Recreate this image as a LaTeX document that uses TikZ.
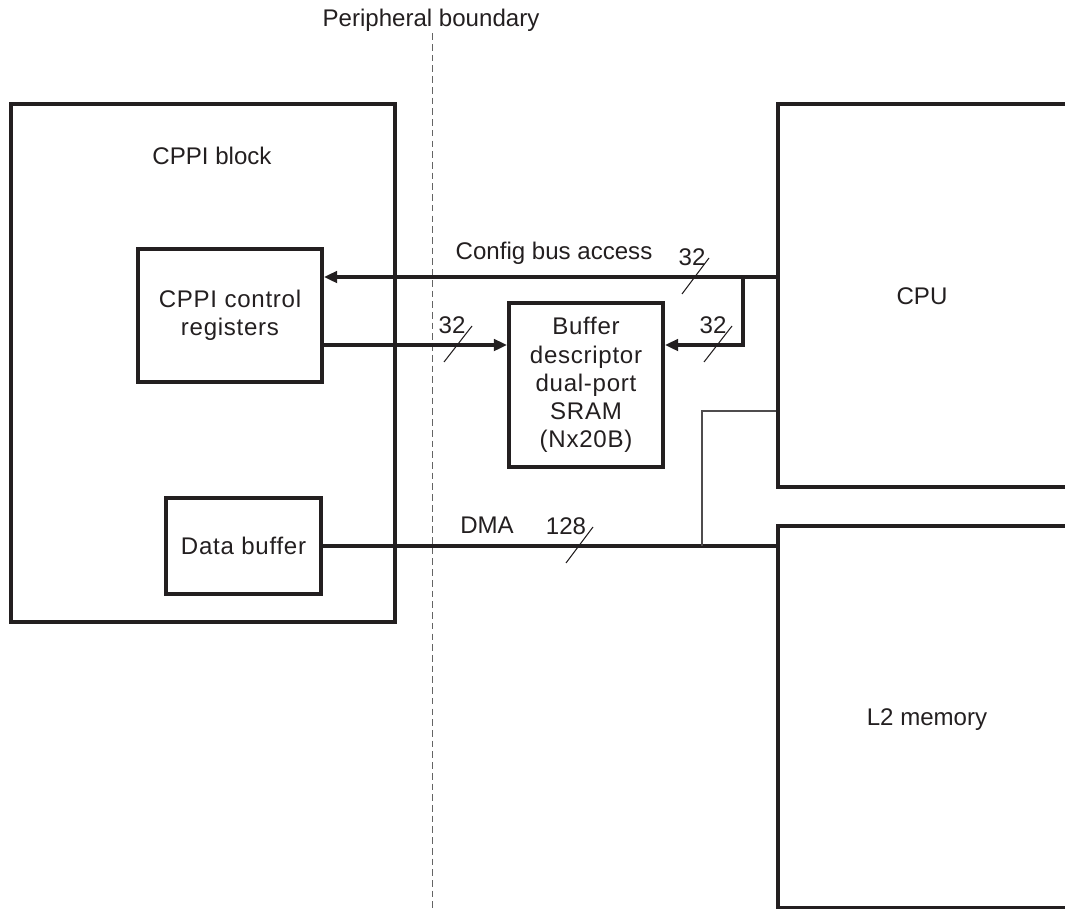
\documentclass[tikz,border=0pt]{standalone}
\usepackage{fontspec}
\setmainfont{Liberation Sans}
\definecolor{hwink}{RGB}{35,31,32}
\definecolor{hwgrey}{RGB}{100,100,100}
\usetikzlibrary{arrows.meta,positioning,calc}

\begin{document}
\begin{tikzpicture}[x=0.02cm, y=-0.02cm,
    hwbox/.style={rectangle, draw=hwink, line width=2.2pt, inner sep=0pt},
    txt/.style={font=\fontsize{13.7}{16}\selectfont, text=hwink, align=center, inner sep=0pt},
    boxtxt/.style={txt, font=\fontsize{13.7}{16}\selectfont\addfontfeature{LetterSpace=3}},
    bus/.style={draw=hwink, line width=2.8pt},
    busarrow/.style={bus, -{Triangle[length=7.5pt,width=6.5pt]}},
    wire/.style={draw=hwink!80, line width=0.8pt},
    tick/.style={draw=hwink, line width=0.6pt},
    boundary/.style={draw=hwgrey, line width=0.6pt, dash pattern=on 3.8pt off 2.3pt}
  ]
    \useasboundingbox (0,0) rectangle (1065,909);
    \clip (0,0) rectangle (1065,909);

    % Peripheral boundary
    \node[txt] (bndlbl) at (431,20) {Peripheral boundary};
    \draw[boundary] ([xshift=1pt,yshift=-1pt]bndlbl.south) -- ([xshift=1pt]bndlbl.south |- 0,909);

    % CPPI block with its registers and buffer
    \node[hwbox, minimum width=7.68cm, minimum height=10.36cm] (cppi) at (203,363) {};
    \node[txt] (cppititle) at (212,156) {CPPI block};
    \node[hwbox, boxtxt, minimum width=3.68cm, minimum height=2.66cm] (regs) at (230,315.5) {CPPI control\\registers};
    \node[hwbox, boxtxt, minimum width=3.1cm, minimum height=1.92cm] (databuf) at (243.5,546) {Data buffer};

    % Buffer descriptor SRAM
    \node[hwbox, boxtxt, minimum width=3.08cm, minimum height=3.28cm] (bd) at (586,385) {Buffer\\descriptor\\dual-port\\SRAM\\(Nx20B)};

    % CPU and L2 memory (cut off at the right)
    \node[hwbox, minimum width=6.84cm, minimum height=7.66cm] (cpu) at (949,295.5) {};
    \node[txt] (cpulbl) at (922,296) {CPU};
    \node[hwbox, minimum width=6.84cm, minimum height=7.64cm] (l2) at (949,717) {};
    \node[txt] (l2lbl) at (927,720) {L2 memory};

    % Config bus
    \coordinate (cfgend) at ([yshift=0.77cm]regs.east);
    \coordinate (bdin) at ([yshift=0.8cm]bd.west);
    \coordinate (cfgtap) at (743,277);
    \draw[busarrow] (cpu.west |- cfgend) -- (cfgend);
    \draw[busarrow] (cfgtap) |- (bd.east |- bdin);
    \draw[busarrow] (regs.east |- bdin) -- (bdin);
    \node[txt] (cfglbl) at (554,253) {Config bus access};

    % DMA
    \draw[bus] (databuf.east) -- (l2.west |- databuf.east);
    \coordinate (dmatap) at (702,546);
    \draw[wire] (dmatap) |- ([yshift=-2.31cm]cpu.west);
    \node[txt] (dmalbl) at (487,525) {DMA};

    % Bus widths
    \node[txt] (w1) at (692,257) {32};
    \draw[tick] (682,294) -- (709,258);
    \node[txt] (w2) at (452,325) {32};
    \draw[tick] (444,362) -- (472,326);
    \node[txt] (w3) at (713,325) {32};
    \draw[tick] (704,362) -- (732,326);
    \node[txt] (w4) at (566,526) {128};
    \draw[tick] (566,563) -- (593,527);
  \end{tikzpicture}
\end{document}
